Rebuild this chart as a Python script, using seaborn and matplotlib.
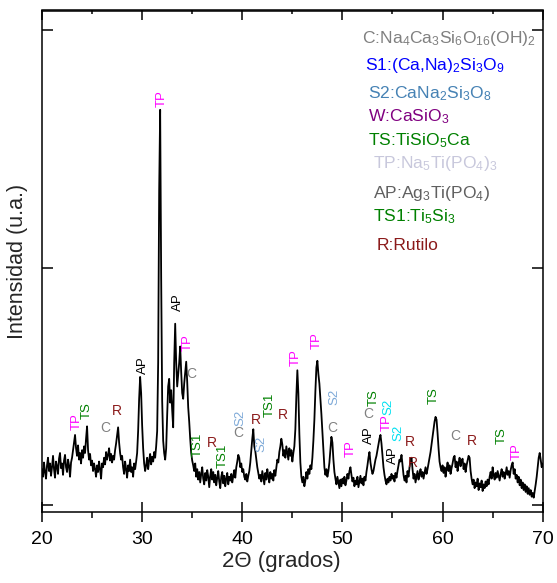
import numpy as np
import pandas as pd
import seaborn as sns
import matplotlib.pyplot as plt
from matplotlib.ticker import MultipleLocator

# XRD intensity every 0.1 deg 2theta (arbitrary units)
int_20_25 = [38, 30, 45, 35, 28, 42, 50, 36, 44, 31,
             40, 52, 38, 29, 46, 41, 33, 49, 55, 39,
             44, 32, 47, 53, 40, 35, 48, 42, 30, 45,
             50, 58, 66, 74, 60, 52, 63, 48, 55, 44,
             58, 50, 62, 55, 70, 83, 58, 48, 54, 42]
int_25_30 = [47, 36, 44, 38, 30, 42, 35, 46, 38, 28,
             44, 40, 50, 43, 56, 48, 53, 60, 47, 54,
             45, 52, 48, 58, 65, 74, 82, 66, 55, 48,
             52, 40, 33, 46, 38, 29, 42, 36, 48, 35,
             40, 30, 44, 38, 46, 55, 78, 112, 135, 118]
int_30_35 = [84, 60, 44, 36, 42, 50, 38, 47, 54, 43,
             51, 46, 56, 50, 62, 78, 150, 330, 416, 240,
             110, 68, 55, 48, 60, 95, 125, 133, 108, 121,
             100, 82, 150, 191, 150, 125, 138, 150, 167, 140,
             118, 112, 128, 140, 151, 130, 103, 88, 70, 55]
int_35_40 = [47, 42, 36, 44, 30, 38, 27, 35, 24, 33,
             40, 28, 22, 34, 26, 37, 30, 19, 31, 38,
             27, 35, 24, 32, 21, 29, 36, 25, 18, 30,
             35, 23, 31, 20, 28, 34, 22, 30, 26, 33,
             24, 31, 37, 29, 40, 46, 53, 50, 40, 44]
int_40_45 = [35, 38, 30, 27, 33, 25, 31, 36, 45, 58,
             70, 80, 62, 57, 48, 40, 34, 28, 32, 25,
             36, 29, 22, 34, 27, 38, 30, 24, 35, 28,
             33, 26, 37, 31, 40, 48, 45, 56, 62, 70,
             64, 52, 58, 50, 62, 55, 48, 60, 52, 58]
int_45_50 = [46, 55, 62, 80, 115, 142, 118, 75, 45, 30,
             24, 30, 20, 26, 35, 28, 38, 33, 42, 38,
             50, 68, 90, 120, 145, 152, 138, 128, 112, 96,
             78, 58, 40, 32, 38, 30, 36, 45, 58, 72,
             66, 48, 35, 28, 22, 30, 24, 18, 27, 20]
int_50_55 = [28, 23, 30, 21, 26, 33, 28, 36, 40, 32,
             25, 29, 20, 26, 22, 30, 19, 25, 31, 23,
             28, 21, 30, 26, 35, 42, 50, 56, 45, 38,
             33, 36, 42, 48, 52, 58, 64, 70, 74, 65,
             52, 40, 32, 26, 22, 28, 24, 30, 26, 33]
int_55_60 = [28, 31, 25, 34, 29, 36, 42, 48, 46, 53,
             42, 32, 26, 31, 24, 36, 30, 40, 47, 50,
             38, 28, 33, 24, 30, 36, 27, 33, 38, 30,
             35, 28, 34, 40, 33, 38, 44, 50, 56, 64,
             72, 80, 88, 93, 90, 76, 60, 46, 40, 36]
int_60_65 = [42, 34, 40, 30, 38, 45, 36, 42, 33, 39,
             44, 50, 52, 40, 46, 36, 44, 50, 41, 47,
             49, 38, 44, 35, 42, 47, 52, 50, 36, 28,
             22, 27, 18, 24, 20, 28, 16, 23, 19, 26,
             15, 22, 18, 25, 20, 27, 22, 30, 35, 28]
int_65_70 = [40, 32, 27, 34, 29, 36, 31, 26, 33, 38,
             30, 35, 28, 33, 40, 32, 36, 29, 37, 42,
             45, 33, 38, 28, 32, 24, 30, 21, 27, 18,
             24, 16, 22, 14, 20, 12, 18, 11, 16, 9,
             13, 8, 15, 22, 30, 40, 50, 55, 48, 40, 44]

intensity = np.concatenate([int_20_25, int_25_30, int_30_35, int_35_40, int_40_45,
                            int_45_50, int_50_55, int_55_60, int_60_65, int_65_70])
two_theta = np.round(np.linspace(20, 70, len(intensity)), 1)

# phases (legend box, top right)
phase_text = ["C:Na$_4$Ca$_3$Si$_6$O$_{16}$(OH)$_2$",
              "S1:(Ca,Na)$_2$Si$_3$O$_9$",
              "S2:CaNa$_2$Si$_3$O$_8$",
              "W:CaSiO$_3$",
              "TS:TiSiO$_5$Ca",
              "TP:Na$_5$Ti(PO$_4$)$_3$",
              "AP:Ag$_3$Ti(PO$_4$)",
              "TS1:Ti$_5$Si$_3$",
              "R:Rutilo"]
phase_colors = ["#808080", "#0000ff", "#4682b4", "#800080", "#008000",
                "#c8c8dc", "#606060", "#008000", "#8b1a1a"]

# peak assignments: phase, 2theta, label height
peak_phase = ["TP", "TS", "C", "R", "AP", "TP", "AP", "TP", "C", "TS1",
              "R", "TS1", "C", "S2", "R", "S2", "TS1", "R", "TP", "TP",
              "C", "S2", "TP", "AP", "C", "TS", "TP", "S2*", "AP", "S2*",
              "R", "R", "TS", "C", "R", "TS", "TP"]
peak_pos = [23.47, 24.46, 26.35, 27.5, 30.04, 31.93, 33.53, 34.58, 34.92, 35.58,
            36.97, 38.08, 39.56, 39.83, 41.39, 41.89, 42.79, 44.04, 45.33, 47.43,
            49.02, 49.19, 50.86, 52.61, 52.61, 53.08, 54.4, 54.6, 55.07, 55.57,
            56.76, 57.06, 59.15, 61.31, 62.97, 65.9, 67.42]
peak_height = [88, 100, 81, 99, 147, 428, 214, 171, 138, 64,
               65, 52, 76, 92, 90, 65, 106, 95, 155, 173,
               81, 114, 60, 74, 96, 113, 87, 104, 53, 76,
               67, 44, 115, 73, 68, 73, 57]
label_colors = {"TP": "#ff00ff", "TS": "#008000", "C": "#808080", "R": "#8b1a1a",
                "AP": "#000000", "TS1": "#008000", "S2": "#7faad8", "S2*": "#00e0f0"}

sns.set_theme(style="ticks")
plt.rcParams["font.family"] = ["Liberation Sans", "DejaVu Sans"]
plt.rcParams["mathtext.fontset"] = "custom"
plt.rcParams["mathtext.rm"] = "Liberation Sans"
plt.rcParams["mathtext.it"] = "Liberation Sans:italic"
plt.rcParams["mathtext.bf"] = "Liberation Sans:bold"

W, H = 557, 583
fig = plt.figure(figsize=(W / 100, H / 100), dpi=100)
ax = fig.add_axes([42 / W, 1 - 512.3 / H, 500.7 / W, 501.8 / H])

df = pd.DataFrame({"two_theta": two_theta, "intensity": intensity})
sns.lineplot(data=df, x="two_theta", y="intensity", color="black", lw=1.3, ax=ax)

ax.set_xlim(20, 70)
ax.set_ylim(-7.4, 520.5)
ax.set_xticks(range(20, 71, 10))
ax.xaxis.set_minor_locator(MultipleLocator(5))
ax.set_yticks([0, 250, 500])
ax.set_yticklabels([])
ax.tick_params(axis="x", which="major", direction="inout", length=14.4, width=1.1,
               labelsize=14, pad=6, colors="black")
ax.tick_params(axis="x", which="minor", direction="out", length=4.3, width=1.1, colors="black")
ax.tick_params(axis="y", which="major", direction="in", length=8, width=1.1,
               left=True, right=True, colors="black")
for sp in ax.spines.values():
    sp.set_color("black")
    sp.set_linewidth(1.1)

top = ax.secondary_xaxis("top")
top.set_xticks(range(20, 71, 10))
top.xaxis.set_minor_locator(MultipleLocator(5))
top.tick_params(axis="x", which="major", direction="in", length=7, width=1.1,
                labeltop=False, colors="black")
top.tick_params(axis="x", which="minor", direction="in", length=3.2, width=1.1, colors="black")
top.spines["top"].set_linewidth(1.1)
top.spines["top"].set_color("black")

ax.set_xlabel("2\u0398 (grados)", fontsize=16, va="center")
ax.xaxis.set_label_coords(0.478, -0.099)
ax.set_ylabel("Intensidad (u.a.)", fontsize=15.5, va="center")
ax.yaxis.set_label_coords(-0.048, 0.5)

for ph, x, y in zip(peak_phase, peak_pos, peak_height):
    upright = ph in ("C", "R")
    ax.text(x, y, ph.rstrip("*"), color=label_colors[ph],
            fontsize=10 if upright else 9.5,
            rotation=0 if upright else 90, ha="center", va="center")

legend_x = [362, 365, 368, 368, 368, 373, 373, 373, 377]
legend_y = [43, 70, 98, 121.5, 145, 168, 198, 221.5, 250]
for txt, c, lx, ly in zip(phase_text, phase_colors, legend_x, legend_y):
    fig.text(lx / W, 1 - ly / H, txt, color=c, fontsize=12.6, va="baseline", ha="left")

fig.savefig("out.png", dpi=100)
